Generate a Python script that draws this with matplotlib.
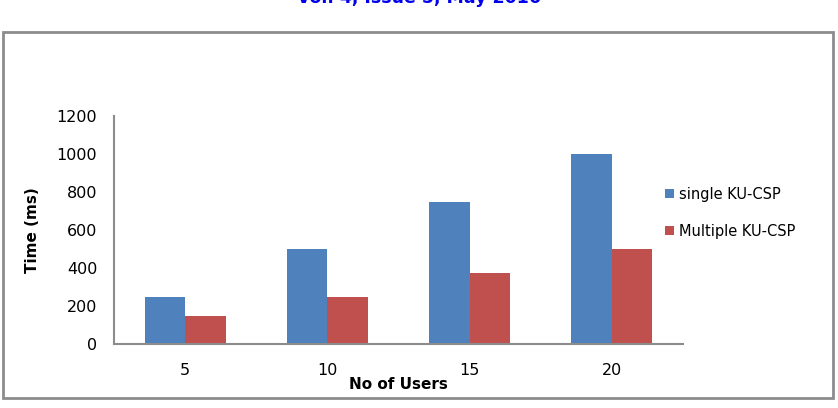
import matplotlib.pyplot as plt
import numpy as np
from matplotlib.patches import Rectangle

users = ["5", "10", "15", "20"]
single_ku = [250, 500, 750, 1000]
multiple_ku = [150, 250, 375, 500]

blue = "#4F81BD"
red = "#C0504D"

fig = plt.figure(figsize=(8.38, 4.08), dpi=100)
plt.rcParams["font.family"] = ["DejaVu Sans"]

# journal header, cut off by the top edge like in the scanned page
fig.text(0.5, 1 - 3 / 408, "Vol. 4, Issue 5, May 2016", ha="center", va="baseline",
         color="#0000EE", fontsize=12.5, fontweight="bold")

# outer chart border
fig.patches.append(Rectangle((3 / 838, 1 - 398 / 408), 830 / 838, 366 / 408,
                             transform=fig.transFigure, fill=False,
                             edgecolor="#8C8C8C", linewidth=2))

ax = fig.add_axes([114 / 838, 1 - 344 / 408, 569 / 838, 228 / 408])
x = np.arange(len(users))
w = 0.285
ax.bar(x - w / 2, single_ku, w, color=blue, label="single KU-CSP")
ax.bar(x + w / 2, multiple_ku, w, color=red, label="Multiple KU-CSP")

ax.set_xlim(-0.5, len(users) - 0.5)
ax.set_ylim(0, 1200)
ax.set_yticks(range(0, 1201, 200))
ax.set_xticks(x)
ax.set_xticklabels(users)
ax.tick_params(axis="both", length=0, labelsize=11.5)
ax.tick_params(axis="x", pad=14)
ax.tick_params(axis="y", pad=12)

for s in ["top", "right"]:
    ax.spines[s].set_visible(False)
for s in ["left", "bottom"]:
    ax.spines[s].set_color("#8C8C8C")
    ax.spines[s].set_linewidth(1.5)

ax.set_ylabel("Time (ms)", fontsize=11, fontweight="bold", labelpad=12)
ax.set_xlabel("No of Users", fontsize=11, fontweight="bold", labelpad=-1)

ax.legend(loc="center left", bbox_to_anchor=(0.968, 0.575), frameon=False,
          fontsize=10.5, handlelength=0.6, handleheight=0.6,
          handletextpad=0.4, labelspacing=1.5, borderaxespad=0, borderpad=0)

fig.savefig("out.png", dpi=100)
